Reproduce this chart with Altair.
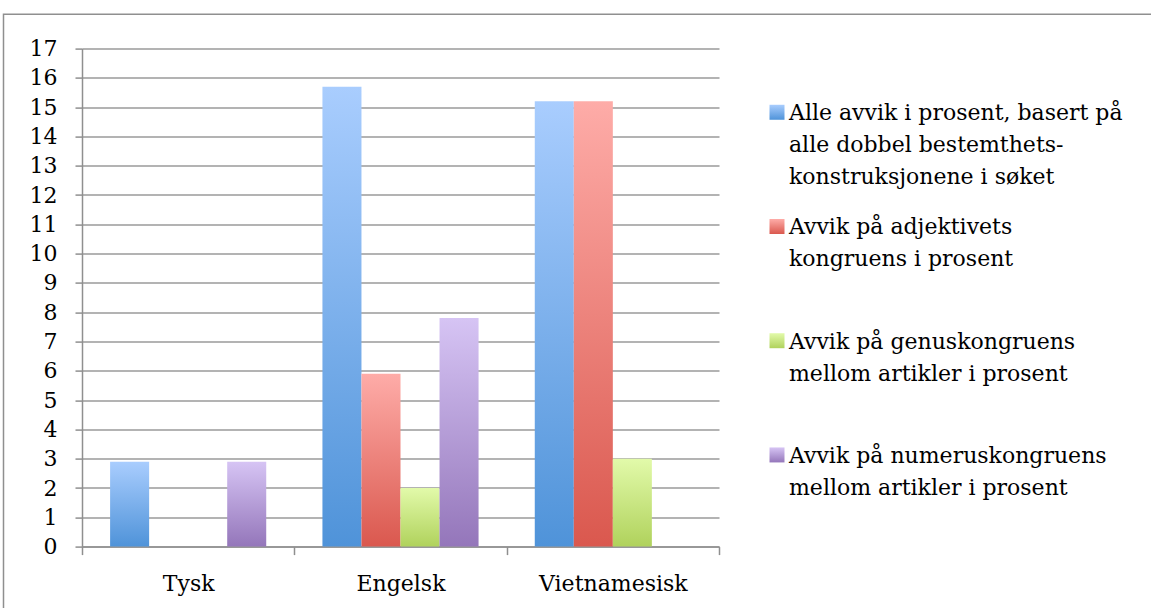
import altair as alt
import pandas as pd

# Languages on the x axis
languages = ["Tysk", "Engelsk", "Vietnamesisk"]

# Series names (legend text, with manual line breaks)
series = [
    "Alle avvik i prosent, basert på\nalle dobbel bestemthets-\nkonstruksjonene i søket",
    "Avvik på adjektivets\nkongruens i prosent",
    "Avvik på genuskongruens\nmellom artikler i prosent",
    "Avvik på numeruskongruens\nmellom artikler i prosent",
]

# Percentages per language, one list per series
alle_avvik = [2.9, 15.7, 15.2]
adjektiv = [0.0, 5.9, 15.2]
genus = [0.0, 2.0, 3.0]
numerus = [2.9, 7.8, 0.0]

# Gradient colours (top, bottom) for each series
top_colors = ["#A9CDFE", "#FEACA8", "#E2FAAA", "#D6C4F4"]
bottom_colors = ["#4F93D9", "#DA584E", "#B0D25C", "#9476BA"]

values = [alle_avvik, adjektiv, genus, numerus]
rows = []
for s, vals in zip(series, values):
    for lang, v in zip(languages, vals):
        rows.append({"lang": lang, "series": s, "value": v})
df = pd.DataFrame(rows)

legend_df = pd.DataFrame({"series": series})

FONT = "DejaVu Serif, Liberation Serif, serif"
FONT_SIZE = 22
GRAY = "#8f8f8f"


def gradient(top, bottom):
    return alt.Gradient(
        gradient="linear",
        stops=[alt.GradientStop(color=top, offset=0), alt.GradientStop(color=bottom, offset=1)],
        x1=0, x2=0, y1=0, y2=1,
    )


x_axis = alt.Axis(title=None, labelAngle=0, tickBand="extent", tickSize=8,
                  labelPadding=19, grid=False)
y_axis = alt.Axis(title=None, values=list(range(18)), grid=True, tickSize=7,
                  labelPadding=18, labelFlush=False, labelOverlap=False)

bar_layers = []
for s, top, bottom in zip(series, top_colors, bottom_colors):
    bar_layers.append(
        alt.Chart(df)
        .transform_filter(alt.datum.series == s)
        .mark_bar(color=gradient(top, bottom))
        .encode(
            x=alt.X("lang:N", sort=languages, axis=x_axis,
                    scale=alt.Scale(paddingInner=0, paddingOuter=0)),
            xOffset=alt.XOffset("series:N", sort=series,
                                scale=alt.Scale(domain=series, paddingInner=0, paddingOuter=0.72)),
            y=alt.Y("value:Q", axis=y_axis, scale=alt.Scale(domain=[0, 17], nice=False)),
        )
    )
bars = alt.layer(*bar_layers)

legend_y = alt.Y("series:N", sort=series, axis=None,
                 scale=alt.Scale(type="point", domain=series, padding=0.68))

legend_layers = []
for s, top, bottom in zip(series, top_colors, bottom_colors):
    legend_layers.append(
        alt.Chart(legend_df)
        .transform_filter(alt.datum.series == s)
        .mark_square(size=225, filled=True, opacity=1, yOffset=-14,
                     fill=gradient(top, bottom), stroke=None)
        .encode(x=alt.value(695), y=legend_y)
    )
legend_text = (
    alt.Chart(legend_df)
    .mark_text(align="left", baseline="alphabetic", lineBreak="\n", lineHeight=32,
               font=FONT, fontSize=FONT_SIZE, color="black", yOffset=-14, dy=8)
    .encode(x=alt.value(707), y=legend_y, text="series:N")
)
legend = alt.layer(*legend_layers, legend_text)

frame = (
    alt.Chart(pd.DataFrame({"f": [0]}))
    .mark_rect(fillOpacity=0, stroke=GRAY, strokeWidth=1.5)
    .encode(x=alt.value(-78.5), x2=alt.value(1100), y=alt.value(-34.3), y2=alt.value(600))
)

chart = (
    alt.layer(bars, legend, frame)
    .resolve_scale(y="independent")
    .properties(
        width=637,
        height=498,
        autosize=alt.AutoSizeParams(type="none"),
        padding={"left": 82, "top": 48.6, "right": 432, "bottom": 61.4},
        background="white",
    )
    .configure_view(stroke=None)
    .configure_axis(
        labelFont=FONT,
        labelFontSize=FONT_SIZE,
        labelColor="black",
        domainColor=GRAY,
        domainWidth=1.5,
        tickColor=GRAY,
        tickWidth=1.5,
        gridColor="#9a9a9a",
        gridWidth=1.5,
    )
)

chart.save("out.html", embed_options={"renderer": "svg", "actions": False})
